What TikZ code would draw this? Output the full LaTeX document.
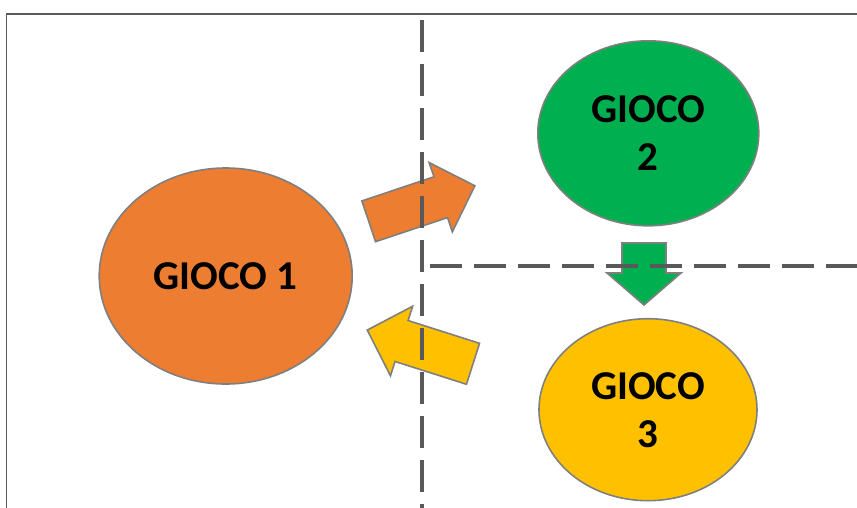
\documentclass[tikz,border=0pt]{standalone}
\usepackage{fontspec}
\setmainfont{Carlito}
\usetikzlibrary{shapes.geometric}
\definecolor{gOrange}{HTML}{ED7D31}
\definecolor{gGreen}{HTML}{00B050}
\definecolor{gYellow}{HTML}{FFC000}
\definecolor{gEdge}{HTML}{7F7F7F}
\definecolor{gLine}{HTML}{595959}
\tikzset{
  gioco/.style={ellipse, draw=gEdge, line width=1.6pt, inner sep=0pt,
    align=center, text=black, font=\fontsize{41}{48}\selectfont\bfseries},
  blockarrow/.style={draw=gEdge, line width=1.6pt, line join=miter},
  sepline/.style={draw=gLine, line width=3.2pt, dash pattern=on 32pt off 12pt},
  frameline/.style={draw=gLine, line width=1.6pt}
}
\begin{document}
\begin{tikzpicture}[x=1pt,y=-1pt]
\useasboundingbox (0,0) rectangle (857,507);
\begin{scope}
\clip (0,0) rectangle (857,507);
% frame
\coordinate (fa) at (6.5,508);
\coordinate (fb) at (6.5,14);
\coordinate (fc) at (858,14);
\draw[frameline] (fa) -- (fb) -- (fc);
% ellipses
\node[gioco, fill=gOrange, minimum width=253pt, minimum height=216pt] (g1) at (225.7,276) {GIOCO 1};
\node[gioco, fill=gGreen, minimum width=221pt, minimum height=185pt] (g2) at (648.3,133.3) {GIOCO\\2};
\node[gioco, fill=gYellow, minimum width=218pt, minimum height=182pt] (g3) at (648,409.7) {GIOCO\\3};
% orange arrow (1 -> 2)
\begin{scope}[shift={(368.7,221.3)}, rotate=18.5]
\draw[blockarrow, fill=gOrange] (0,-21.5) -- (76,-21.5) -- (76,-36.5) -- (112,0) -- (76,36.5) -- (76,21.5) -- (0,21.5) -- cycle;
\end{scope}
% yellow arrow (3 -> 1)
\begin{scope}[shift={(473,363.8)}, rotate=162.3]
\draw[blockarrow, fill=gYellow] (0,-21.5) -- (75,-21.5) -- (75,-36.5) -- (111,0) -- (75,36.5) -- (75,21.5) -- (0,21.5) -- cycle;
\end{scope}
% green arrow (2 -> 3)
\draw[blockarrow, fill=gGreen] (622,243) -- (666,243) -- (666,273) -- (681,273) -- (644,305) -- (607,273) -- (622,273) -- cycle;
% dashed separators
\coordinate (va) at (422,20);
\coordinate (vb) at (422,520);
\coordinate (ha) at (430,266);
\coordinate (hb) at (870,266);
\draw[sepline] (va) -- (vb);
\draw[sepline] (ha) -- (hb);
\end{scope}
\end{tikzpicture}
\end{document}
